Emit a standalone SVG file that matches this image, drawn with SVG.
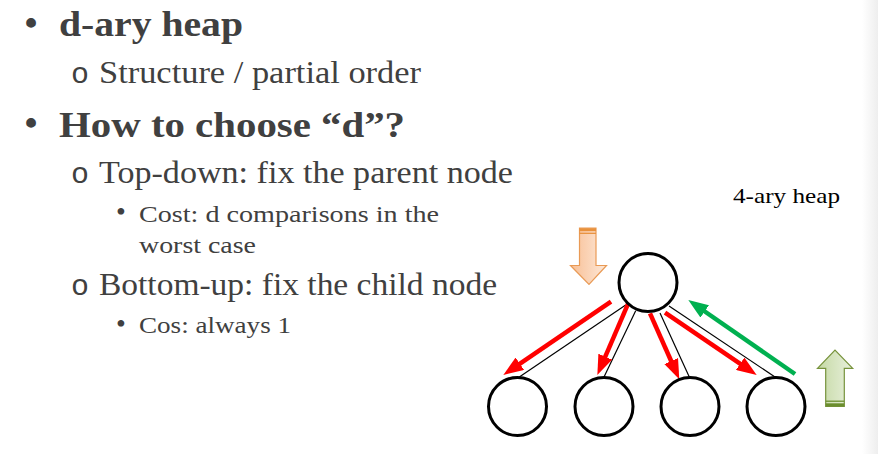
<svg xmlns="http://www.w3.org/2000/svg" width="878" height="454" viewBox="0 0 878 454">
<defs>
<style>
.t{font-family:"Liberation Serif","DejaVu Serif",serif;fill:#404040}
.b{font-weight:bold;font-size:36px}
.m{font-size:31.5px}
.s{font-size:23px}
.sb{font-size:28px}
.o{font-family:"Liberation Mono",monospace;font-size:30px;fill:#404040}
.node{fill:#fff;stroke:#000;stroke-width:3}
.edge{stroke:#000;stroke-width:1.2}
.red{stroke:#ff0000;stroke-width:4.5;fill:none;marker-end:url(#hr)}
.grn{stroke:#00b050;stroke-width:4.5;fill:none;marker-end:url(#hg)}
</style>
<marker id="hr" markerUnits="userSpaceOnUse" markerWidth="20" markerHeight="15" refX="6" refY="7.5" orient="auto"><path d="M0,0 L20,7.5 L0,15 z" fill="#ff0000"/></marker>
<marker id="hg" markerUnits="userSpaceOnUse" markerWidth="20" markerHeight="15" refX="6" refY="7.5" orient="auto"><path d="M0,0 L20,7.5 L0,15 z" fill="#00b050"/></marker>
<linearGradient id="og" x1="0" y1="0" x2="1" y2="0"><stop offset="0" stop-color="#f8bf95"/><stop offset="1" stop-color="#fde8d8"/></linearGradient>
<linearGradient id="gg" x1="0" y1="0" x2="1" y2="0"><stop offset="0" stop-color="#c5d9a4"/><stop offset="1" stop-color="#e8f0dc"/></linearGradient>
<linearGradient id="edge" x1="0" y1="0" x2="1" y2="0"><stop offset="0" stop-color="#ffffff"/><stop offset="1" stop-color="#eeeeee"/></linearGradient>
</defs>
<rect width="878" height="454" fill="#fff"/>
<rect x="862" y="0" width="16" height="454" fill="url(#edge)"/>

<g id="text">
<text class="t b" x="31" y="35" text-anchor="middle">•</text>
<text class="t b" x="59" y="36" textLength="184" lengthAdjust="spacingAndGlyphs">d-ary heap</text>
<text class="o" x="71" y="83">o</text>
<text class="t m" x="99" y="83" textLength="322" lengthAdjust="spacingAndGlyphs">Structure / partial order</text>
<text class="t b" x="31" y="135" text-anchor="middle">•</text>
<text class="t b" x="59" y="136.5" textLength="346" lengthAdjust="spacingAndGlyphs">How to choose “d”?</text>
<text class="o" x="71" y="182.5">o</text>
<text class="t m" x="99" y="182.5" textLength="414" lengthAdjust="spacingAndGlyphs">Top-down: fix the parent node</text>
<text class="t sb" x="121" y="221" text-anchor="middle">•</text>
<text class="t s" x="139" y="221.5" textLength="300" lengthAdjust="spacingAndGlyphs">Cost: d comparisons in the</text>
<text class="t s" x="139" y="253" textLength="117" lengthAdjust="spacingAndGlyphs">worst case</text>
<text class="o" x="71" y="295">o</text>
<text class="t m" x="99" y="295" textLength="398" lengthAdjust="spacingAndGlyphs">Bottom-up: fix the child node</text>
<text class="t sb" x="121" y="332.5" text-anchor="middle">•</text>
<text class="t s" x="139" y="332.5" textLength="152" lengthAdjust="spacingAndGlyphs">Cos: always 1</text>
<text x="733" y="203" font-family="Liberation Serif, DejaVu Serif, serif" font-size="22" fill="#000" textLength="107" lengthAdjust="spacingAndGlyphs">4-ary heap</text>
</g>

<g id="connectors">
<line class="edge" x1="625.7" y1="305" x2="519.3" y2="377"/>
<line class="edge" x1="635.7" y1="310.7" x2="604" y2="377"/>
<line class="edge" x1="660" y1="313" x2="689.3" y2="377"/>
<line class="edge" x1="669" y1="306" x2="775" y2="377"/>
<line class="red" x1="611" y1="301.7" x2="514.9" y2="367.1"/>
<line class="red" x1="629" y1="301.7" x2="602.9" y2="362.2"/>
<line class="red" x1="650" y1="313.3" x2="673.6" y2="366.5"/>
<line class="red" x1="665" y1="312.7" x2="745.1" y2="367.1"/>
<line class="grn" x1="795" y1="374" x2="699.8" y2="308"/>
</g>

<g id="root"><circle class="node" cx="648" cy="282.5" r="29"/></g>
<g id="child1"><circle class="node" cx="517.5" cy="406.5" r="29"/></g>
<g id="child2"><circle class="node" cx="604" cy="406.5" r="29"/></g>
<g id="child3"><circle class="node" cx="690" cy="406.5" r="29"/></g>
<g id="child4"><circle class="node" cx="776" cy="406.5" r="29"/></g>

<g id="down-arrow">
<path d="M579.5,228 L596,228 L596,265.5 L606.5,265.5 L589,284.5 L570.5,265.5 L579.5,265.5 Z" fill="url(#og)" stroke="#e99a55" stroke-width="1.2"/>
<line x1="579.5" y1="229.7" x2="596" y2="229.7" stroke="#e8913c" stroke-width="3"/>
<line x1="579.5" y1="233.3" x2="596" y2="233.3" stroke="#e8913c" stroke-width="1.3"/>
</g>

<g id="up-arrow">
<path d="M825.7,406.5 L844.3,406.5 L844.3,368.3 L852.7,368.3 L835,350 L817.5,368.3 L825.7,368.3 Z" fill="url(#gg)" stroke="#77933c" stroke-width="1.2"/>
<line x1="825.7" y1="404.8" x2="844.3" y2="404.8" stroke="#6b8e2e" stroke-width="3"/>
<line x1="825.7" y1="401.2" x2="844.3" y2="401.2" stroke="#6b8e2e" stroke-width="1.3"/>
</g>
</svg>
